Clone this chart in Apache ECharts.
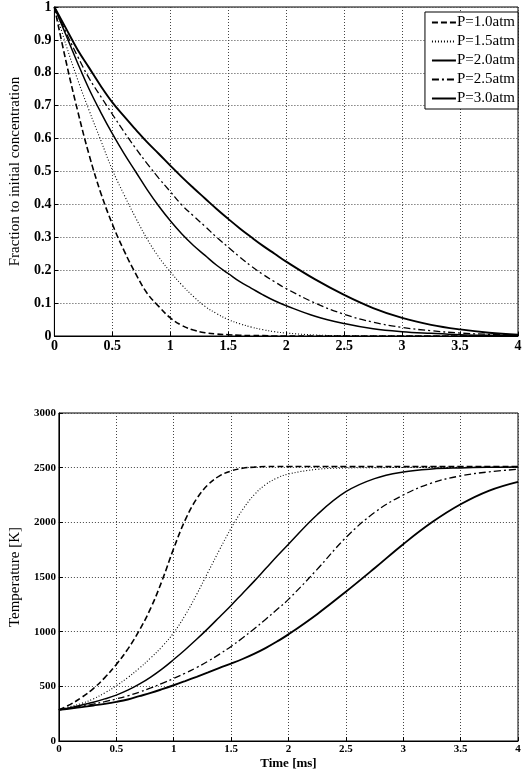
<!DOCTYPE html>
<html>
<head>
<meta charset="utf-8">
<script src="https://cdn.jsdelivr.net/npm/echarts@6/dist/echarts.min.js"></script>
<style>
html, body { margin: 0; padding: 0; background: #fff; }
#chart { width: 525px; height: 771px; }
</style>
</head>
<body>
<div id="chart"></div>
<script>
// time grid [ms], shared by both panels
var times = [0, 0.1, 0.2, 0.3, 0.4, 0.5, 0.6, 0.7, 0.8, 0.9, 1.0, 1.1, 1.2, 1.3, 1.4, 1.5,
	1.6, 1.7, 1.8, 1.9, 2.0, 2.25, 2.5, 2.75, 3.0, 3.25, 3.5, 3.75, 4.0];

var seriesNames = ['P=1.0atm', 'P=1.5atm', 'P=2.0atm', 'P=2.5atm', 'P=3.0atm'];

// top panel: fraction to initial concentration
var fracP10 = [1, 0.835, 0.685, 0.55, 0.435, 0.34, 0.26, 0.19, 0.13, 0.09, 0.055, 0.032, 0.018, 0.01, 0.006, 0.004,
	0.002, 0.001, 0.001, 0, 0, 0, 0, 0, 0, 0, 0, 0, 0];
var fracP15 = [1, 0.885, 0.78, 0.685, 0.595, 0.505, 0.43, 0.36, 0.295, 0.24, 0.195, 0.155, 0.12, 0.09, 0.068, 0.05,
	0.037, 0.027, 0.019, 0.013, 0.009, 0.003, 0.001, 0, 0, 0, 0, 0, 0];
var fracP20 = [1, 0.915, 0.83, 0.75, 0.68, 0.615, 0.555, 0.5, 0.445, 0.395, 0.35, 0.31, 0.275, 0.245, 0.215, 0.19,
	0.165, 0.145, 0.125, 0.107, 0.092, 0.06, 0.038, 0.022, 0.013, 0.008, 0.004, 0.002, 0.001];
var fracP25 = [1, 0.923, 0.85, 0.783, 0.728, 0.674, 0.621, 0.571, 0.524, 0.48, 0.439, 0.398, 0.365, 0.333, 0.3, 0.27,
	0.24, 0.212, 0.187, 0.165, 0.144, 0.1, 0.066, 0.042, 0.026, 0.016, 0.009, 0.005, 0.003];
var fracP30 = [1, 0.935, 0.87, 0.815, 0.76, 0.71, 0.668, 0.628, 0.589, 0.554, 0.518, 0.483, 0.45, 0.418, 0.386, 0.356,
	0.327, 0.3, 0.274, 0.25, 0.226, 0.172, 0.125, 0.085, 0.055, 0.034, 0.02, 0.01, 0.004];

// bottom panel: temperature [K]
var tempP10 = [285, 335, 400, 480, 580, 700, 840, 1010, 1215, 1470, 1760, 2020, 2215, 2345, 2425, 2470,
	2495, 2505, 2510, 2510, 2510, 2510, 2510, 2510, 2510, 2510, 2510, 2510, 2510];
var tempP15 = [285, 315, 345, 385, 440, 505, 580, 665, 760, 865, 990, 1150, 1340, 1545, 1750, 1945,
	2115, 2250, 2345, 2405, 2442, 2485, 2497, 2500, 2502, 2503, 2503, 2503, 2503];
var tempP20 = [285, 305, 330, 355, 385, 420, 465, 520, 585, 660, 745, 835, 930, 1030, 1135, 1240,
	1350, 1460, 1575, 1690, 1800, 2070, 2280, 2400, 2460, 2488, 2498, 2503, 2505];
var tempP25 = [285, 300, 318, 338, 360, 385, 413, 447, 485, 527, 572, 620, 672, 730, 795, 865,
	942, 1025, 1112, 1202, 1295, 1570, 1860, 2090, 2250, 2360, 2425, 2462, 2485];
var tempP30 = [285, 297, 310, 325, 340, 358, 380, 410, 440, 474, 510, 548, 587, 627, 668, 708,
	750, 797, 850, 910, 975, 1160, 1365, 1580, 1800, 2000, 2165, 2290, 2370];

var xTicks = { min: 0, max: 4, interval: 0.5 };
var fracTicks = { min: 0, max: 1, interval: 0.1 };
var tempTicks = { min: 0, max: 3000, interval: 500 };

var serif = 'Liberation Serif';

// line looks, one per pressure
var lineLooks = [
	{ type: [6, 3], width: 1.6 },
	{ type: [1, 2], width: 1.1 },
	{ type: 'solid', width: 1.5 },
	{ type: [7, 3, 2, 3], width: 1.3 },
	{ type: 'solid', width: 1.9 }
];

var myChart = echarts.init(document.getElementById('chart'));

function pairs(ys) {
	var out = [];
	for (var i = 0; i < times.length; i++) {
		out.push([times[i], ys[i]]);
	}
	return out;
}

function makeXAxis(gridIndex, labelSize, name) {
	return {
		type: 'value',
		gridIndex: gridIndex,
		min: xTicks.min,
		max: xTicks.max,
		interval: xTicks.interval,
		name: name,
		nameLocation: 'middle',
		nameGap: 16,
		nameTextStyle: { fontFamily: serif, fontSize: 13, fontWeight: 'bold', color: '#000' },
		axisLine: { show: true, lineStyle: { color: '#000', width: 1 } },
		axisTick: { show: true, inside: true, length: 4, lineStyle: { color: '#000' } },
		axisLabel: { margin: 3, fontFamily: serif, fontSize: labelSize, fontWeight: 'bold', color: '#000' },
		splitLine: { show: true, lineStyle: { color: '#444', type: [1, 2], width: 1 } }
	};
}

function makeYAxis(gridIndex, ticks, labelSize, name, gap, nameSize) {
	return {
		type: 'value',
		gridIndex: gridIndex,
		min: ticks.min,
		max: ticks.max,
		interval: ticks.interval,
		name: name,
		nameLocation: 'middle',
		nameGap: gap,
		nameTextStyle: { fontFamily: serif, fontSize: nameSize, color: '#000' },
		axisLine: { show: true, lineStyle: { color: '#000', width: 1 } },
		axisTick: { show: true, inside: true, length: 4, lineStyle: { color: '#000' } },
		axisLabel: {
			margin: 3, fontFamily: serif, fontSize: labelSize, fontWeight: 'bold', color: '#000',
			formatter: function (v) { return String(v); }
		},
		splitLine: { show: true, lineStyle: { color: '#444', type: [1, 2], width: 1 } }
	};
}

var fracData = [fracP10, fracP15, fracP20, fracP25, fracP30];
var tempData = [tempP10, tempP15, tempP20, tempP25, tempP30];

var series = [];
for (var k = 0; k < seriesNames.length; k++) {
	series.push({
		name: seriesNames[k],
		type: 'line',
		xAxisIndex: 0,
		yAxisIndex: 0,
		data: pairs(fracData[k]),
		smooth: 0.4,
		symbol: 'none',
		color: '#000',
		lineStyle: { color: '#000', type: lineLooks[k].type, width: lineLooks[k].width }
	});
}
for (var k = 0; k < seriesNames.length; k++) {
	series.push({
		name: seriesNames[k],
		type: 'line',
		xAxisIndex: 1,
		yAxisIndex: 1,
		data: pairs(tempData[k]),
		smooth: 0.4,
		symbol: 'none',
		color: '#000',
		lineStyle: { color: '#000', type: lineLooks[k].type, width: lineLooks[k].width }
	});
}

var option = {
	animation: false,
	backgroundColor: '#fff',
	textStyle: { fontFamily: serif },
	grid: [
		{ left: 43, top: 7, width: 475, height: 329, show: true, borderColor: '#000', borderWidth: 1 },
		{ left: 43, top: 413, width: 475, height: 329, show: true, borderColor: '#000', borderWidth: 1 }
	],
	legend: {
		orient: 'vertical',
		right: 7,
		top: 12,
		data: seriesNames,
		// hide the marker, keep the line sample
		itemStyle: { opacity: 0 },
		itemWidth: 24,
		itemHeight: 10,
		itemGap: 4,
		padding: [3, 3, 3, 6],
		backgroundColor: '#fff',
		borderColor: '#000',
		borderWidth: 1,
		borderRadius: 0,
		textStyle: { fontFamily: serif, fontSize: 15, color: '#000', padding: [0, 0, 0, -4] }
	},
	xAxis: [
		makeXAxis(0, 14, ''),
		makeXAxis(1, 11, 'Time [ms]')
	],
	yAxis: [
		makeYAxis(0, fracTicks, 14, 'Fraction to initial concentration', 27, 15),
		makeYAxis(1, tempTicks, 11, 'Temperature [K]', 33, 15)
	],
	series: series
};

myChart.setOption(option);
</script>
</body>
</html>
